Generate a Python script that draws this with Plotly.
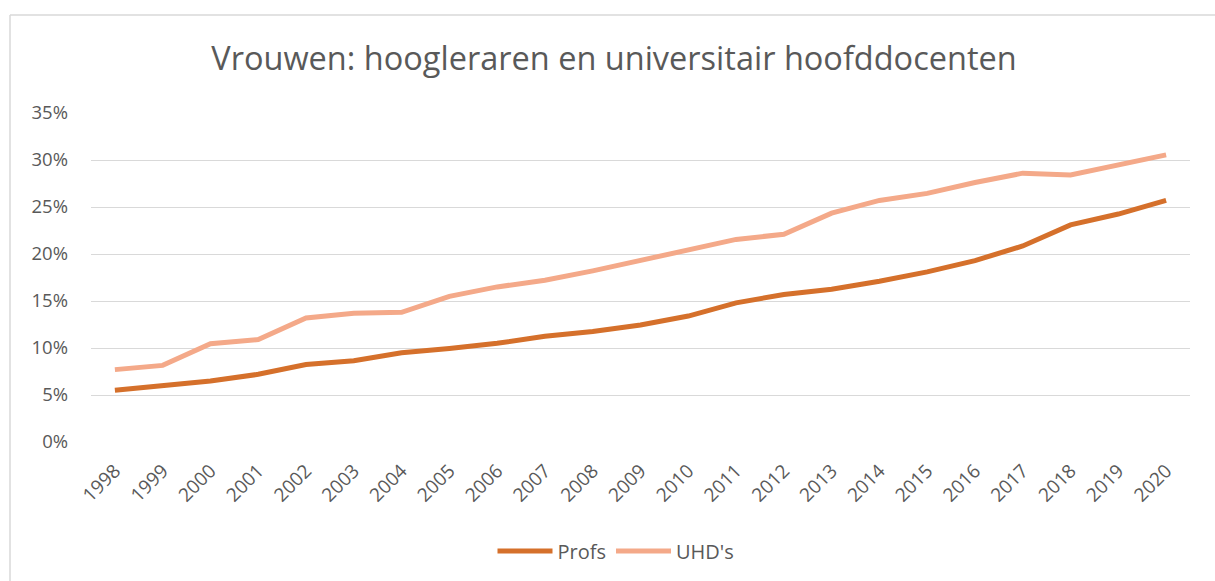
import plotly.graph_objects as go

years = [str(y) for y in range(1998, 2021)]
profs = [5.5, 6.0, 6.5, 7.2, 8.25, 8.65, 9.5, 9.95, 10.5, 11.25, 11.75, 12.45, 13.4,
         14.8, 15.7, 16.25, 17.1, 18.1, 19.3, 20.85, 23.1, 24.25, 25.7]
uhds = [7.7, 8.15, 10.45, 10.9, 13.2, 13.7, 13.8, 15.5, 16.5, 17.2, 18.2, 19.3, 20.4,
        21.55, 22.1, 24.35, 25.7, 26.45, 27.6, 28.6, 28.4, 29.45, 30.55]
yticks = [0, 5, 10, 15, 20, 25, 30, 35]
yticklabels = [f"{v}%" for v in yticks]

W, H = 1215, 581
L, R, T, B = 91, 25, 113, 139
FONT = "Open Sans"
GREY = "#595959"

fig = go.Figure()
fig.add_trace(go.Scatter(x=years, y=profs, mode="lines", name="Profs",
                         line=dict(color="#D5702B", width=5)))
fig.add_trace(go.Scatter(x=years, y=uhds, mode="lines", name="UHD's",
                         line=dict(color="#F4A989", width=5)))

pw = W - L - R
ph = H - T - B
def px(x):
    return (x - L) / pw
def py(y):
    return (H - B - y) / ph

fig.update_layout(
    width=W, height=H,
    margin=dict(l=L, r=R, t=T, b=B, autoexpand=False),
    paper_bgcolor="white", plot_bgcolor="white",
    font=dict(family=FONT, color=GREY, size=18),
    title=dict(text="Vrouwen: hoogleraren en universitair hoofddocenten",
               x=px(614), xref="paper", xanchor="center",
               y=1 - 59 / H, yanchor="middle",
               font=dict(size=32.5, color=GREY, family=FONT)),
    xaxis=dict(type="category", range=[-0.5, 22.5], tickangle=-45,
               showgrid=False, showline=False, ticks="",
               ticklabelstandoff=13,
               tickfont=dict(size=19, color=GREY), fixedrange=True),
    yaxis=dict(range=[0, 35], tickvals=yticks, ticktext=yticklabels,
               showgrid=True, gridcolor="#D9D9D9", gridwidth=1.3,
               zeroline=False, showline=False, ticks="",
               ticklabelstandoff=22,
               tickfont=dict(size=18.5, color=GREY), fixedrange=True),
    legend=dict(orientation="h", x=px(616), xanchor="center",
                y=py(551), yanchor="middle",
                font=dict(size=20, color=GREY), itemwidth=55,
                traceorder="normal"),
    showlegend=True,
    shapes=[
        dict(type="line", xref="paper", yref="paper",
             x0=px(10), x1=px(10), y0=py(15), y1=py(H + 5),
             line=dict(color="#D9D9D9", width=1.5)),
        dict(type="line", xref="paper", yref="paper",
             x0=px(10), x1=px(W + 5), y0=py(15), y1=py(15),
             line=dict(color="#D9D9D9", width=1.5)),
    ],
)

fig.write_html("out.html", config={"displayModeBar": False},
               post_script="document.body.style.margin='0';")
